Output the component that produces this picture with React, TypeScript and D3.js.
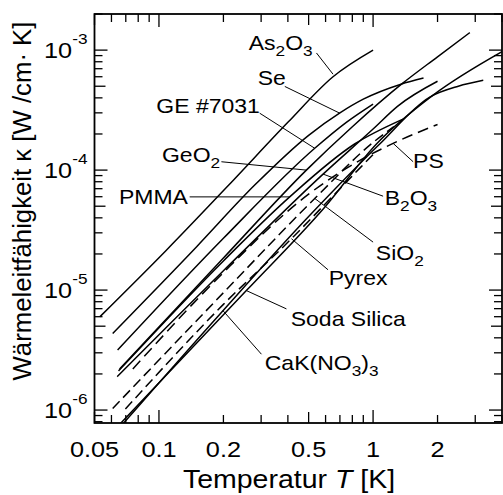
import React from 'react';
import * as d3 from 'd3';

// curves: [T in K, kappa in W/cmK]
const as2o3 = [[0.053, 6.0e-6], [0.108, 2.14e-5], [0.222, 8.2e-5], [0.4, 2.5e-4], [0.65, 6.0e-4], [1.0, 1.0e-3]];
const se = [[0.0608, 4.35e-6], [0.15, 2.3e-5], [0.28, 7.5e-5], [0.5, 1.95e-4], [0.7, 3.0e-4], [0.9, 3.9e-4], [1.35, 5.2e-4], [1.72, 5.85e-4]];
const ge7031 = [[0.0641, 3.16e-6], [0.2, 2.7e-5], [0.534, 1.52e-4], [0.75, 2.5e-4], [1.0, 3.55e-4]];
const geo2 = [[0.0655, 2.2e-6], [0.2, 1.85e-5], [0.488, 1.0e-4], [0.8, 2.3e-4], [1.357, 5.2e-4], [2.0, 8.8e-4], [2.83, 1.4e-3]];
const pmma = [[0.0648, 2.12e-6], [0.2, 1.75e-5], [0.408, 5.98e-5], [0.82, 1.65e-4], [1.38, 2.66e-4]];
const b2o3 = [[0.0638, 1.9e-6], [0.2, 1.45e-5], [0.584, 9.26e-5], [1.0, 2.2e-4], [1.3, 3.4e-4], [2.0, 5.5e-4]];
const sio2 = [[0.0608, 1.03e-6], [0.2, 9.5e-6], [0.534, 5.8e-5], [1.0, 1.7e-4], [1.25, 2.3e-4]];
const pyrex = [[0.0697, 1.02e-6], [0.2, 7.6e-6], [0.4156, 2.68e-5], [0.7, 7.0e-5], [1.0, 1.35e-4]];
const sodaSilica = [[0.066, 7.7e-7], [0.256, 9.9e-6], [0.6, 5.0e-5], [1.037, 1.65e-4], [1.9, 4.19e-4], [4.0, 9.7e-4]];
const cakno3 = [[0.068, 7.7e-7], [0.199, 6.74e-6], [0.5, 4.1e-5], [1.074, 1.65e-4], [1.84, 4.06e-4], [2.5, 5.0e-4], [3.27, 5.6e-4]];
const ps = [[0.0755, 2.2e-6], [0.2, 1.4e-5], [0.5, 6.3e-5], [0.9, 1.25e-4], [1.24, 1.67e-4], [2.0, 2.4e-4]];

const curves = [
  { name: 'As2O3', data: as2o3, dash: null },
  { name: 'Se', data: se, dash: null },
  { name: 'GE7031', data: ge7031, dash: null },
  { name: 'GeO2', data: geo2, dash: null },
  { name: 'PMMA', data: pmma, dash: null },
  { name: 'B2O3', data: b2o3, dash: null },
  { name: 'SiO2', data: sio2, dash: '10,5' },
  { name: 'Pyrex', data: pyrex, dash: '10,5' },
  { name: 'Soda', data: sodaSilica, dash: null },
  { name: 'CaK', data: cakno3, dash: null },
  { name: 'PS', data: ps, dash: '11,6' },
];

// labels: text parts, start of text [T, k], leader from/to [T, k]
const labels = [
  { parts: [['As'], ['2', 1], ['O'], ['3', 1]], at: [0.2625, 1.01e-3], from: [0.544, 9.47e-4], to: [0.65, 6.3e-4] },
  { parts: [['Se']], at: [0.289, 5.14e-4], from: [0.387, 4.98e-4], to: [0.699, 2.98e-4] },
  { parts: [['GE #7031']], at: [0.0972, 2.98e-4], from: [0.2955, 2.98e-4], to: [0.534, 1.52e-4] },
  { parts: [['GeO'], ['2', 1]], at: [0.1033, 1.174e-4], from: [0.1957, 1.174e-4], to: [0.488, 1.0e-4] },
  { parts: [['PMMA']], at: [0.065, 5.19e-5], from: [0.1391, 5.98e-5], to: [0.408, 5.98e-5] },
  { parts: [['B'], ['2', 1], ['O'], ['3', 1]], at: [1.134, 5.09e-5], from: [1.1135, 6.06e-5], to: [0.584, 9.26e-5] },
  { parts: [['SiO'], ['2', 1]], at: [1.03, 1.77e-5], from: [1.0, 2.51e-5], to: [0.534, 5.8e-5] },
  { parts: [['Pyrex']], at: [0.621, 1.11e-5], from: [0.616, 1.476e-5], to: [0.4156, 2.68e-5] },
  { parts: [['Soda Silica']], at: [0.4124, 4.98e-6], from: [0.3938, 6.97e-6], to: [0.2561, 9.9e-6] },
  { parts: [['CaK(NO'], ['3', 1], [')'], ['3', 1]], at: [0.312, 2.16e-6], from: [0.301, 2.92e-6], to: [0.199, 6.74e-6] },
  { parts: [['PS']], at: [1.538, 1.033e-4], from: [1.538, 1.174e-4], to: [1.24, 1.672e-4] },
];

const xTickLabels = ['0.05', '0.1', '0.2', '0.5', '1', '2'];
const yTickExps = [-6, -5, -4, -3];

const W = 503;
const H = 495;
const margin = { top: 14, right: 1, bottom: 72, left: 94.5 };
const font = 'Liberation Sans, Arial, Helvetica, sans-serif';
const sx = 1.15; // the original lettering is a bit wider than Arial

const tickLen = m => (m === 1 ? 13 : m === 5 ? 11 : 8);

const App = () => {
  const x = d3.scaleLog().domain([0.05, 4]).range([margin.left, W - margin.right]);
  const y = d3.scaleLog().domain([7.8e-7, 2.0e-3]).range([H - margin.bottom, margin.top]);
  const x0 = margin.left, x1 = W - margin.right, y0 = H - margin.bottom, y1 = margin.top;

  const line = d3.line()
    .x(d => x(d[0]))
    .y(d => y(d[1]))
    .curve(d3.curveMonotoneX);

  const xTicks = [];
  for (const dec of [0.01, 0.1, 1]) {
    for (let m = 1; m < 10; m++) {
      const v = +(dec * m).toPrecision(3);
      if (v >= 0.05 && v <= 4) xTicks.push({ v, m });
    }
  }
  const yTicks = [];
  for (const e of [-7, -6, -5, -4, -3]) {
    for (let m = 1; m < 10; m++) {
      const v = m * Math.pow(10, e);
      if (v >= 7.8e-7 && v <= 2.0e-3) yTicks.push({ v, m });
    }
  }

  return (
    <svg width={W} height={H} style={{ position: 'absolute', left: 0, top: 0, background: '#fff' }}
      fontFamily={font}>
      <defs>
        <clipPath id="plot">
          <rect x={x0} y={y1} width={x1 - x0} height={y0 - y1} />
        </clipPath>
      </defs>

      {/* ticks, inward on all four sides */}
      {xTicks.map(t => (
        <g key={'xt' + t.v} stroke="#000" strokeWidth={1.3}>
          <line x1={x(t.v)} x2={x(t.v)} y1={y0} y2={y0 - tickLen(t.m)} />
          <line x1={x(t.v)} x2={x(t.v)} y1={y1} y2={y1 + tickLen(t.m)} />
        </g>
      ))}
      {yTicks.map(t => (
        <g key={'yt' + t.v} stroke="#000" strokeWidth={1.3}>
          <line x1={x0} x2={x0 + tickLen(t.m)} y1={y(t.v)} y2={y(t.v)} />
          <line x1={x1} x2={x1 - tickLen(t.m)} y1={y(t.v)} y2={y(t.v)} />
        </g>
      ))}

      <g clipPath="url(#plot)" fill="none" stroke="#000" strokeWidth={1.5}>
        {curves.map(c => (
          <path key={c.name} d={line(c.data)} strokeDasharray={c.dash || undefined} />
        ))}
      </g>

      <g stroke="#000" strokeWidth={1}>
        {labels.map((l, i) => (
          <line key={'ld' + i} x1={x(l.from[0])} y1={y(l.from[1])} x2={x(l.to[0])} y2={y(l.to[1])} />
        ))}
      </g>

      {labels.map((l, i) => (
        <text key={'lb' + i} transform={`translate(${x(l.at[0])},${y(l.at[1])}) scale(${sx},1)`} fontSize={20}>
          {l.parts.map((p, j) => (
            <tspan key={j} fontSize={p[1] ? 15 : 20}
              dy={p[1] ? 6 : (j > 0 && l.parts[j - 1][1] ? -6 : 0)}>{p[0]}</tspan>
          ))}
        </text>
      ))}

      <rect x={x0} y={y1} width={x1 - x0} height={y0 - y1} fill="none" stroke="#000" strokeWidth={1.8} />

      {xTickLabels.map(s => (
        <text key={'xl' + s} transform={`translate(${x(+s)},${y0 + 34}) scale(${sx},1)`} fontSize={22}
          textAnchor="middle">{s}</text>
      ))}
      {yTickExps.map(e => (
        <text key={'yl' + e} transform={`translate(${x0 - 7},${y(Math.pow(10, e)) + 8}) scale(${sx},1)`}
          fontSize={22} textAnchor="end">
          10<tspan fontSize={15} dy={-14}>{e}</tspan>
        </text>
      ))}

      <text transform={`translate(289,488) scale(1.14,1)`} fontSize={25} textAnchor="middle">
        Temperatur <tspan fontStyle="italic">T</tspan>  [K]
      </text>
      <text transform="translate(31,201) rotate(-90) scale(1.03,1)" fontSize={25} textAnchor="middle">
        Wärmeleitfähigkeit κ [W /cm· K]
      </text>
    </svg>
  );
};

export default App;
